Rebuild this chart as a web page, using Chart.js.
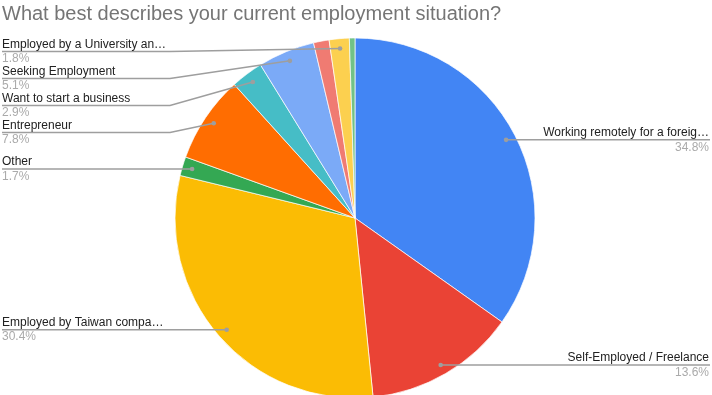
<!DOCTYPE html>
<html>
<head>
<meta charset="utf-8">
<script src="https://cdn.jsdelivr.net/npm/chart.js@4/dist/chart.umd.min.js"></script>
<style>
  html, body { margin: 0; padding: 0; background: #fff; overflow: hidden; }
  #wrap { position: relative; width: 712px; height: 395px; }
</style>
</head>
<body>
<div id="wrap"><canvas id="pie"></canvas></div>
<script>
// slices clockwise from 12 o'clock; empty label = no callout shown in the original
var labels = ["Working remotely for a foreig\u2026", "Self-Employed / Freelance", "Employed by Taiwan compa\u2026",
    "Other", "Entrepreneur", "Want to start a business", "Seeking Employment", "",
    "Employed by a University an\u2026", ""];
var shares = [34.8, 13.6, 30.4, 1.7, 7.8, 2.9, 5.1, 1.4, 1.8, 0.5];
var colors = ["#4285f4", "#ea4335", "#fbbc04", "#34a853", "#ff6d01", "#46bdc6", "#7baaf7", "#f07b72", "#fcd04f", "#71c287"];
var title = "What best describes your current employment situation?";

var FONT = "'Liberation Sans', Arial, sans-serif";

// callout labels like the google sheets pie
var callouts = {
    id: "callouts",
    afterDraw: function(chart) {
        var ctx = chart.ctx;
        var arcs = chart.getDatasetMeta(0).data;
        var left = [], right = [];
        arcs.forEach(function(arc, i) {
            if (!labels[i]) return;
            var p = arc.getProps(["x", "y", "startAngle", "endAngle", "outerRadius"], true);
            var mid = (p.startAngle + p.endAngle) / 2;
            var r = p.outerRadius * 0.945;
            var item = {i: i, dx: p.x + Math.cos(mid) * r, dy: p.y + Math.sin(mid) * r};
            (item.dx < p.x ? left : right).push(item);
        });
        [left, right].forEach(function(side, s) {
            side.sort(function(a, b) { return a.dy - b.dy; });
            var prev = -1000;
            side.forEach(function(it) {
                var y = Math.max(it.dy, prev + 27, 51.5);
                prev = y;
                ctx.save();
                ctx.strokeStyle = "#9e9e9e";
                ctx.lineWidth = 1.5;
                ctx.beginPath();
                if (s == 0) {
                    ctx.moveTo(2, y);
                    ctx.lineTo(170, y);
                } else {
                    ctx.moveTo(710, y);
                    ctx.lineTo(542, y);
                }
                ctx.lineTo(it.dx, it.dy);
                ctx.stroke();
                ctx.fillStyle = "#9e9e9e";
                ctx.beginPath();
                ctx.arc(it.dx, it.dy, 2.3, 0, Math.PI * 2);
                ctx.fill();
                ctx.textAlign = s == 0 ? "left" : "right";
                var tx = s == 0 ? 2 : 709;
                ctx.font = "12px " + FONT;
                ctx.fillStyle = "#222222";
                ctx.fillText(labels[it.i], tx, y - 4);
                ctx.fillStyle = "#aaaaaa";
                ctx.fillText(shares[it.i].toFixed(1) + "%", tx, y + 10.8);
                ctx.restore();
            });
        });
        ctx.save();
        ctx.font = "20px " + FONT;
        ctx.fillStyle = "#757575";
        ctx.textAlign = "left";
        ctx.fillText(title, 2, 19.5);
        ctx.restore();
    }
};

var chart = new Chart(document.getElementById("pie"), {
    type: "pie",
    data: {
        labels: labels,
        datasets: [{
            data: shares,
            backgroundColor: colors,
            borderColor: "#ffffff",
            borderWidth: 0.7,
            radius: 180,
            clip: false
        }]
    },
    options: {
        responsive: true,
        maintainAspectRatio: false,
        animation: false,
        layout: { padding: { top: 41, bottom: 0, left: 0, right: 2 } },
        plugins: {
            legend: { display: false },
            tooltip: { enabled: false },
            title: { display: false }
        }
    },
    plugins: [callouts]
});
</script>
</body>
</html>
